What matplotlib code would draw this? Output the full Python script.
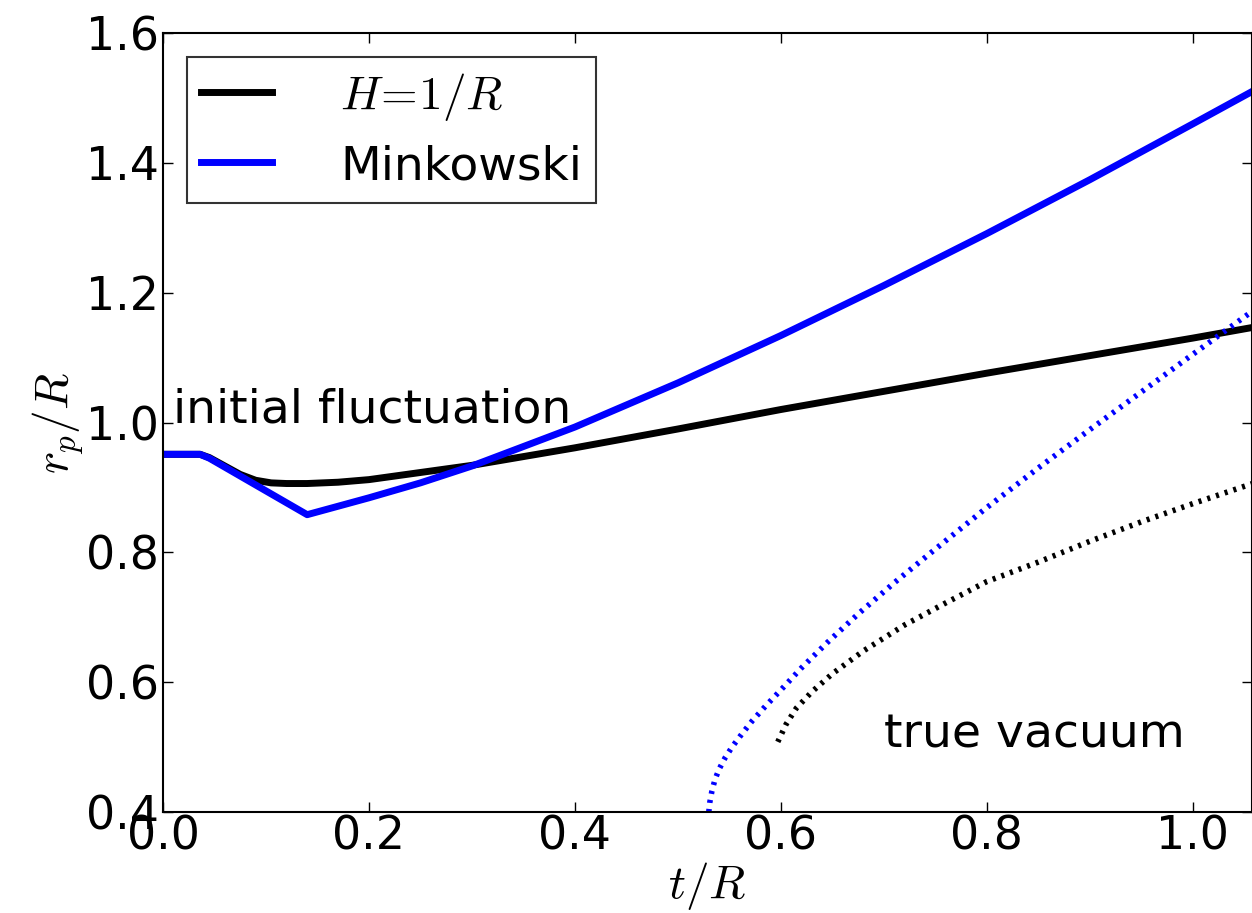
import matplotlib
matplotlib.use("Agg")
import matplotlib.pyplot as plt

plt.rcParams['mathtext.fontset'] = 'cm'
plt.rcParams['font.family'] = ['DejaVu Sans']

# bubble radius, de Sitter H=1/R (solid black)
t_ds = [0.0, 0.036, 0.045, 0.06, 0.075, 0.09, 0.105, 0.12, 0.14, 0.17, 0.2, 0.3, 0.4, 0.5,
        0.6, 0.7, 0.8, 0.9, 1.0, 1.06]
r_ds = [0.951, 0.951, 0.946, 0.933, 0.920, 0.911, 0.907, 0.906, 0.906, 0.908, 0.912, 0.934, 0.961, 0.990,
        1.020, 1.048, 1.076, 1.103, 1.130, 1.147]

# Minkowski (solid blue)
t_mk = [0.0, 0.036, 0.045, 0.14, 0.2, 0.25, 0.3, 0.4, 0.5, 0.6, 0.7, 0.8, 0.9, 1.0, 1.06]
r_mk = [0.951, 0.951, 0.945, 0.858, 0.884, 0.907, 0.933, 0.993, 1.061, 1.134, 1.211, 1.291, 1.374, 1.460, 1.512]

# true vacuum bubbles (dotted)
t_tv_mk = [0.530, 0.531, 0.533, 0.536, 0.540, 0.546, 0.553, 0.562, 0.572, 0.585, 0.60, 0.62, 0.645,
           0.675, 0.71, 0.75, 0.80, 0.85, 0.90, 0.95, 1.0, 1.06]
r_tv_mk = [0.400, 0.415, 0.432, 0.450, 0.466, 0.484, 0.501, 0.520, 0.540, 0.563, 0.588, 0.622, 0.661,
           0.705, 0.753, 0.805, 0.869, 0.930, 0.989, 1.047, 1.105, 1.174]

t_tv_ds = [0.597, 0.605, 0.615, 0.63, 0.65, 0.68, 0.72, 0.76, 0.80, 0.85, 0.90, 0.95, 1.0, 1.06]
r_tv_ds = [0.508, 0.535, 0.560, 0.585, 0.613, 0.648, 0.688, 0.722, 0.755, 0.785, 0.817, 0.847, 0.875, 0.907]

fig = plt.figure(figsize=(12.52, 9.13), dpi=100)
ax = fig.add_axes([163/1252, 1-812/913, 1088.5/1252, 779/913])

ax.plot(t_ds, r_ds, color='black', lw=5, label=r'$H\!=\!1/R$')
ax.plot(t_mk, r_mk, color='blue', lw=5, label='Minkowski')
ax.plot(t_tv_mk, r_tv_mk, color='blue', lw=4, dashes=(0.55, 1.1), dash_capstyle='butt')
ax.plot(t_tv_ds, r_tv_ds, color='black', lw=4, dashes=(0.55, 1.1), dash_capstyle='butt')

ax.text(0.01, 1.0, 'initial fluctuation', fontsize=34)
ax.text(0.70, 0.50, 'true vacuum', fontsize=34)

ax.set_xlim(0, 1.057)
ax.set_ylim(0.4, 1.6)
ax.set_xticks([0.0, 0.2, 0.4, 0.6, 0.8, 1.0])
ax.set_yticks([0.4, 0.6, 0.8, 1.0, 1.2, 1.4, 1.6])
ax.tick_params(direction='in', top=True, right=True, length=7, width=1, labelsize=33)
ax.tick_params(axis='x', pad=2)
ax.tick_params(axis='y', pad=3)
for s in ax.spines.values():
    s.set_linewidth(1.5)

ax.set_xlabel(r'$t/R$', fontsize=34, labelpad=0)
ax.set_ylabel(r'$r_p/R$', fontsize=34, labelpad=0)

leg = ax.legend(loc='upper left', fontsize=34, fancybox=False, handlelength=1.5,
                handletextpad=1.45, labelspacing=0.45, borderaxespad=0.5, borderpad=0.3)
leg.get_frame().set_edgecolor('black')
leg.get_frame().set_linewidth(1.5)

fig.savefig('out.png', dpi=100)
